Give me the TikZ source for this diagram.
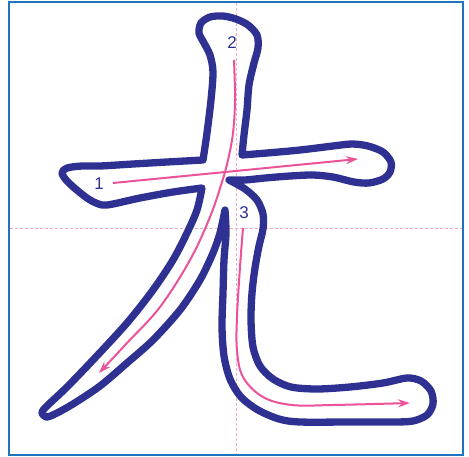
\documentclass[tikz,border=0pt]{standalone}
\usepackage{fontspec}
\setmainfont{Liberation Sans}
\usetikzlibrary{arrows.meta}
\definecolor{navy}{RGB}{46,49,146}
\definecolor{guidepink}{RGB}{236,82,152}
\definecolor{gridpink}{RGB}{246,170,200}
\definecolor{frameblue}{RGB}{32,116,190}
\begin{document}
\begin{tikzpicture}[x=1pt,y=-1pt,
  outline/.style={draw=navy,line width=7.3pt,line join=round,line cap=round},
  guidearrow/.style={draw=guidepink,line width=2pt,-{Stealth[length=12pt,width=8pt,inset=4pt]}},
  gridline/.style={draw=gridpink,line width=0.8pt,dash pattern=on 3pt off 2pt},
  framebox/.style={draw=frameblue,line width=2pt},
  numlabel/.style={text=navy,font=\fontsize{17}{17}\selectfont,inner sep=0pt}]
\useasboundingbox (0,0) rectangle (469,456);
% frame and guides
\draw[framebox] (9,2) rectangle (463,455);
\draw[gridline] (236.5,3) -- (236.5,454);
\draw[gridline] (10,228) -- (462,228);
% character outline
\draw[outline]
  plot[smooth,tension=0.5] coordinates {(203,160) (207,133) (211,100) (213,72) (210,55) (204,43) (199,33) (201,23) (210,17) (223,16) (236,19) (248,25) (257,35) (258,48) (254,63) (249,85) (247,110) (244,135) (242,155)}
  -- plot[smooth,tension=0.5] coordinates {(242,155) (267,153) (300,150) (333,146) (352,144) (368,146) (383,152) (391,162) (390,172) (383,179) (369,183) (354,182) (333,177) (313,175) (290,176) (265,178) (245,180) (229,180)}
  -- plot[smooth,tension=0.5] coordinates {(229,180) (245,189) (257,200) (263,214) (263,229) (259,246) (255,268) (252,293) (251,320) (253,347) (260,366) (273,379) (291,387) (317,389) (350,387) (383,383) (407,378) (421,381) (431,391) (433,404) (427,415) (413,421) (393,422) (350,422) (300,422) (279,419) (258,410) (241,397) (230,379) (224,356) (222,327) (223,293) (224,260) (226,233) (225,210)}
  -- plot[smooth,tension=0.5] coordinates {(225,210) (220,233) (213,253) (200,280) (180,310) (153,340) (127,363) (100,386) (73,404) (55,414) (46,417) (42,412) (48,405) (67,387) (93,360) (127,323) (153,290) (173,260) (187,233) (197,210) (202,188)}
  -- plot[smooth,tension=0.5] coordinates {(202,188) (173,192) (140,198) (113,204) (102,205) (90,200) (78,191) (67,181) (62,173) (67,168) (82,166) (100,166) (133,164) (167,162) (203,160)}
  -- cycle;
% stroke order arrows
\coordinate (s1) at (113,183);
\coordinate (e1) at (358,159);
\draw[guidearrow] (s1) -- (e1);
\draw[guidearrow] plot[smooth,tension=0.6] coordinates {(234,60) (235,100) (233,133) (228,160) (222,182) (210,217) (190,260) (160,307) (127,343) (99,373)};
\draw[guidearrow] plot[smooth,tension=0.6] coordinates {(243,228) (240,267) (237,317) (237,350) (243,377) (263,397) (292,405) (333,405) (410,403)};
% labels
\node[numlabel] (l1) at (99,184) {1};
\node[numlabel] (l2) at (232,43) {2};
\node[numlabel] (l3) at (244,213) {3};
\end{tikzpicture}
\end{document}
